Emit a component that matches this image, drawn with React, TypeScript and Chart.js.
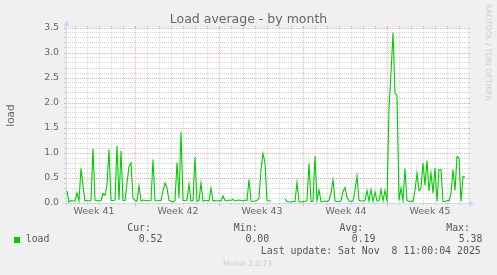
import React, { useEffect, useRef } from 'react';
import { Chart, registerables } from 'chart.js';

Chart.register(...registerables);

// ---------- data ----------
const TITLE = 'Load average - by month';
const Y_TITLE = 'load';
const SERIES_NAME = 'load';
const SAMPLE_HOURS = 4; // one sample every 4 hours
// load average, one value per 4 hours (null = no data)
const loadValues: (number | null)[] = [
  0.24, 0.02, 0.05, 0.04, 0.04, 0.20, 0.04, 0.69, 0.35, 0.04,
  0.05, 0.04, 0.05, 1.09, 0.06, 0.05, 0.04, 0.05, 0.19, 0.15,
  0.36, 1.07, 0.05, 0.05, 0.06, 1.14, 0.06, 1.04, 0.05, 0.05,
  0.40, 0.73, 0.80, 0.10, 0.05, 0.04, 0.34, 0.04, 0.06, 0.05,
  0.05, 0.04, 0.05, 0.87, 0.05, 0.04, 0.05, 0.05, 0.25, 0.40,
  0.30, 0.05, 0.04, 0.02, 0.05, 0.81, 0.10, 1.42, 0.05, 0.05,
  0.06, 0.38, 0.04, 0.05, 0.92, 0.03, 0.05, 0.40, 0.03, 0.05,
  0.05, 0.04, 0.30, 0.04, 0.05, 0.04, 0.05, 0.04, 0.14, 0.05,
  0.04, 0.06, 0.05, 0.07, 0.04, 0.05, 0.06, 0.05, 0.04, 0.06,
  0.05, 0.47, 0.04, 0.03, 0.04, 0.05, 0.10, 0.67, 0.99, 0.80,
  0.05, 0.04, 0.04, null, null, null, null, null, null, 0.08,
  0.03, 0.02, 0.02, 0.03, 0.03, 0.41, 0.03, 0.02, 0.03, 0.03,
  0.05, 0.79, 0.03, 0.03, 0.94, 0.05, 0.26, 0.03, 0.03, 0.04,
  0.03, 0.05, 0.20, 0.46, 0.04, 0.03, 0.03, 0.04, 0.23, 0.31,
  0.12, 0.04, 0.03, 0.04, 0.25, 0.54, 0.05, 0.04, 0.04, 0.05,
  0.25, 0.04, 0.27, 0.03, 0.22, 0.04, 0.04, 0.27, 0.04, 0.25,
  0.05, 1.90, 2.60, 3.41, 2.20, 2.15, 0.05, 0.30, 0.05, 0.69,
  0.05, 0.03, 0.04, 0.03, 0.25, 0.60, 0.25, 0.30, 0.80, 0.35,
  0.85, 0.24, 0.60, 0.20, 0.70, 0.03, 0.67, 0.67, 0.03, 0.03,
  0.05, 0.04, 0.20, 0.67, 0.25, 0.93, 0.90, 0.03, 0.53, 0.52,
  null,
];
const weekLabels = ['Week 41', 'Week 42', 'Week 43', 'Week 44', 'Week 45'];
const FIRST_WEEK_LINE_H = 136; // hours from first sample to first Monday 00:00 shown
const WEEK_H = 168;
const DAY_H = 24;
const Y_MIN = 0;
const Y_MAX = 3.5;
const Y_STEP = 0.5;
const Y_MINOR = 0.1;

const statHeaders = ['Cur:', 'Min:', 'Avg:', 'Max:'];
const statValues = ['0.52', '0.00', '0.19', '5.38'];
const LAST_UPDATE = 'Last update: Sat Nov  8 11:00:04 2025';
const VERSION = 'Munin 2.0.73';
const WATERMARK = 'RRDTOOL / TOBI OETIKER';

// ---------- style ----------
const LINE_COLOR = '#00cc00';
const FONT_COLOR = '#666666';
const SANS = "'DejaVu Sans', sans-serif";
const MONO = "'DejaVu Sans Mono', monospace";
const GRID_COLOR = 'rgba(143,143,143,0.36)';
const MGRID_COLOR = 'rgba(222,48,48,0.38)';
const AXIS_COLOR = '#cfd6f8';

const W = 497;
const H = 275;

const muninPlugin = {
  id: 'muninDecor',
  beforeDraw(chart: any) {
    const { ctx, chartArea: a } = chart;
    ctx.save();
    ctx.fillStyle = '#f0f0f0';
    ctx.fillRect(0, 0, chart.width, chart.height);
    ctx.fillStyle = '#ffffff';
    ctx.fillRect(a.left, a.top, a.right - a.left, a.bottom - a.top);
    ctx.restore();
  },
  beforeDatasetsDraw(chart: any) {
    const { ctx, chartArea: a } = chart;
    const xs = chart.scales.x;
    const ys = chart.scales.y;
    const L = a.left, R = a.right, T = a.top, B = a.bottom;
    const snap = (v: number) => Math.floor(v) + 0.5;
    const seg = (x1: number, y1: number, x2: number, y2: number, color: string, dash: number[]) => {
      ctx.beginPath();
      ctx.setLineDash(dash);
      ctx.strokeStyle = color;
      ctx.moveTo(x1, y1);
      ctx.lineTo(x2, y2);
      ctx.stroke();
    };
    ctx.save();
    ctx.lineWidth = 1;
    // horizontal grid
    const nMinor = Math.round((Y_MAX - Y_MIN) / Y_MINOR);
    const perMajor = Math.round(Y_STEP / Y_MINOR);
    for (let k = 1; k <= nMinor; k++) {
      const v = Y_MIN + k * Y_MINOR;
      const py = snap(ys.getPixelForValue(v));
      const major = k % perMajor === 0;
      const c = major ? MGRID_COLOR : GRID_COLOR;
      seg(L - 2, py, L, py, c, []);
      seg(R, py, R + 2, py, c, []);
      seg(L, py, R, py, c, [1, 1]);
    }
    // vertical grid
    for (let h = FIRST_WEEK_LINE_H % DAY_H; h <= xs.max; h += DAY_H) {
      if (h < xs.min) continue;
      const px = snap(xs.getPixelForValue(h));
      const major = (h - FIRST_WEEK_LINE_H) % WEEK_H === 0;
      const c = major ? MGRID_COLOR : GRID_COLOR;
      seg(px, B, px, B + (major ? 3 : 2), c, []);
      seg(px, T - 2, px, T, c, []);
      seg(px, B, px, T, c, [1, 1]);
    }
    // axes
    ctx.setLineDash([]);
    ctx.strokeStyle = AXIS_COLOR;
    ctx.fillStyle = AXIS_COLOR;
    const ax = snap(L);
    const ay = snap(ys.getPixelForValue(0));
    seg(ax, ay + 2, ax, T - 4, AXIS_COLOR, []);
    seg(L - 3, ay, R + 2, ay, AXIS_COLOR, []);
    ctx.beginPath();
    ctx.moveTo(ax - 3, T - 2);
    ctx.lineTo(ax + 3, T - 2);
    ctx.lineTo(ax, T - 8);
    ctx.closePath();
    ctx.fill();
    ctx.beginPath();
    ctx.moveTo(R + 1, ay - 3);
    ctx.lineTo(R + 1, ay + 3);
    ctx.lineTo(R + 6, ay);
    ctx.closePath();
    ctx.fill();
    ctx.restore();
  },
  afterDraw(chart: any) {
    const { ctx } = chart;
    ctx.save();
    ctx.translate(chart.width - 9, 4);
    ctx.rotate(Math.PI / 2);
    ctx.font = `7.5px ${SANS}`;
    ctx.fillStyle = '#cccccc';
    ctx.textBaseline = 'middle';
    ctx.textAlign = 'left';
    ctx.fillText(WATERMARK, 0, 0);
    ctx.restore();
  },
};

export default function App() {
  const ref = useRef<HTMLCanvasElement | null>(null);

  useEffect(() => {
    if (!ref.current) return;
    const points = loadValues.map((v, i) => ({ x: i * SAMPLE_HOURS, y: v }));
    const xMin = -SAMPLE_HOURS / 2;
    const xMax = (loadValues.length - 1) * SAMPLE_HOURS + SAMPLE_HOURS / 2;
    const labelHours = weekLabels.map((_, k) => FIRST_WEEK_LINE_H - WEEK_H / 2 + 2 + k * WEEK_H);

    const chart = new Chart(ref.current, {
      type: 'line',
      data: {
        datasets: [
          {
            label: SERIES_NAME,
            data: points as any,
            borderColor: LINE_COLOR,
            backgroundColor: LINE_COLOR,
            borderWidth: 1.1,
            pointRadius: 0,
            fill: false,
            tension: 0,
            spanGaps: false,
          },
        ],
      },
      options: {
        animation: false,
        responsive: false,
        devicePixelRatio: 1,
        events: [],
        layout: { padding: { top: 0, left: 0, right: 0, bottom: 52 } },
        plugins: {
          legend: { display: false },
          tooltip: { enabled: false },
          title: {
            display: true,
            text: TITLE,
            color: FONT_COLOR,
            font: { family: SANS, size: 12.5, weight: 'normal', lineHeight: 1.2 },
            padding: { top: 12, bottom: 1 },
          },
        },
        scales: {
          x: {
            type: 'linear',
            position: 'bottom',
            min: xMin,
            max: xMax,
            grid: { display: false, drawTicks: false },
            border: { display: false },
            ticks: {
              autoSkip: false,
              maxRotation: 0,
              padding: 3,
              color: FONT_COLOR,
              font: { family: SANS, size: 9.5 },
              callback: (_v: any, i: number) => weekLabels[i],
            },
            afterBuildTicks: (s: any) => {
              s.ticks = labelHours.map((v) => ({ value: v }));
            },
            afterFit: (s: any) => {
              s.height = 20;
            },
          },
          y: {
            position: 'left',
            min: Y_MIN,
            max: Y_MAX,
            grid: { display: false, drawTicks: false },
            border: { display: false },
            ticks: {
              stepSize: Y_STEP,
              padding: 7,
              color: FONT_COLOR,
              font: { family: SANS, size: 9.3 },
              callback: (v: any) => Number(v).toFixed(1),
            },
            title: {
              display: true,
              text: Y_TITLE,
              color: FONT_COLOR,
              font: { family: SANS, size: 10.5 },
              padding: { top: 5, bottom: 0 },
            },
            afterFit: (s: any) => {
              s.width = 66;
            },
          },
          yR: {
            position: 'right',
            display: true,
            grid: { display: false, drawTicks: false },
            border: { display: false },
            ticks: { display: false },
            afterFit: (s: any) => {
              s.width = 29;
            },
          },
        },
      } as any,
      plugins: [muninPlugin],
    });
    return () => chart.destroy();
  }, []);

  const mono: React.CSSProperties = {
    position: 'absolute',
    fontFamily: MONO,
    fontSize: '9.9px',
    lineHeight: '12px',
    color: '#555555',
    whiteSpace: 'pre',
  };
  const headerLeft = [127.2, 233.8, 339.5, 446.2];
  const valueLeft = [138.7, 245.4, 351.7, 458.7];

  return (
    <div style={{ position: 'fixed', left: 0, top: 0, width: W, height: H, background: '#f0f0f0' }}>
      <canvas ref={ref} width={W} height={H} style={{ display: 'block', width: W, height: H }} />
      {statHeaders.map((t, i) => (
        <div key={'h' + i} style={{ ...mono, left: headerLeft[i], top: 222.3 }}>{t}</div>
      ))}
      <div style={{ position: 'absolute', left: 14, top: 237, width: 6, height: 6, background: LINE_COLOR }} />
      <div style={{ ...mono, left: 25.7, top: 232.9 }}>{SERIES_NAME}</div>
      {statValues.map((t, i) => (
        <div key={'v' + i} style={{ ...mono, left: valueLeft[i], top: 232.9 }}>{t}</div>
      ))}
      <div style={{ ...mono, left: 260.8, top: 244.5 }}>{LAST_UPDATE}</div>
      <div
        style={{
          position: 'absolute',
          left: 223,
          top: 259.4,
          fontFamily: SANS,
          fontSize: '7.5px',
          lineHeight: '9px',
          color: '#cccccc',
          whiteSpace: 'pre',
        }}
      >
        {VERSION}
      </div>
    </div>
  );
}
